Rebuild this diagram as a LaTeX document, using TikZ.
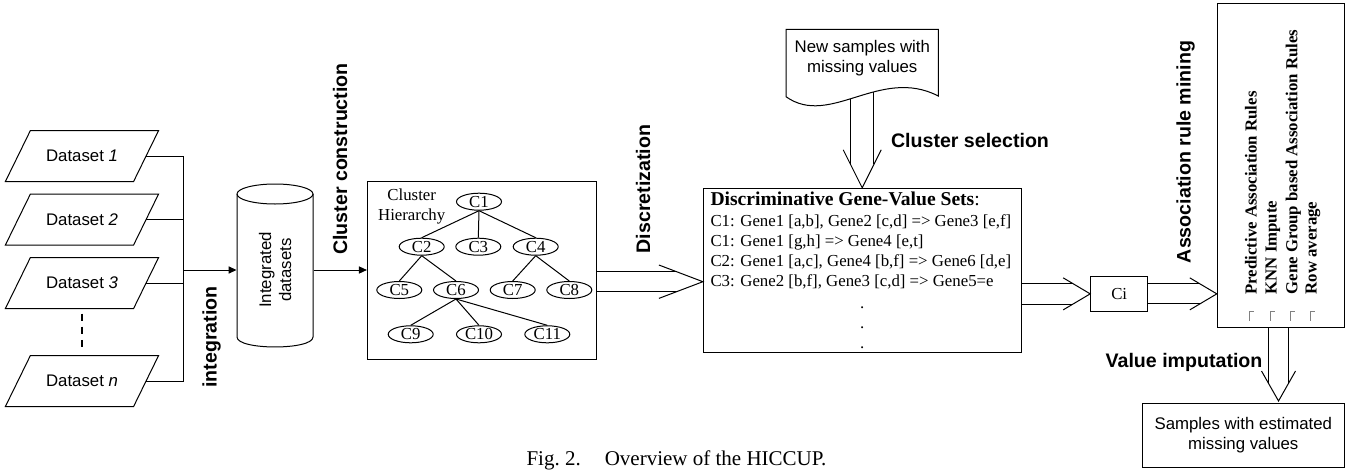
\documentclass[tikz,border=0pt]{standalone}
\usepackage{fontspec}
\setmainfont{Liberation Serif}
\setsansfont{Liberation Sans}
\usetikzlibrary{shapes.geometric,arrows.meta,calc}

% hollow double-line arrows: #1 from, #2 tip, #3 shaft half width, #4 head length, #5 head half width
\newcommand{\rightfat}[5]{%
  \draw ($(#1 |- #2)+(0,-#3)$) -- ($(#2)+({-#4*#3/#5},-#3)$);
  \draw ($(#1 |- #2)+(0,#3)$) -- ($(#2)+({-#4*#3/#5},#3)$);
  \draw ($(#2)+(-#4,-#5)$) -- (#2) -- ($(#2)+(-#4,#5)$);
}
\newcommand{\downfat}[5]{%
  \draw ($(#2 |- #1)+(-#3,0)$) -- ($(#2)+(-#3,{-#4*#3/#5})$);
  \draw ($(#2 |- #1)+(#3,0)$) -- ($(#2)+(#3,{-#4*#3/#5})$);
  \draw ($(#2)+(-#5,-#4)$) -- (#2) -- ($(#2)+(#5,-#4)$);
}

\begin{document}
\begin{tikzpicture}[x=0.5pt,y=0.5pt,yscale=-1,xscale=1,line width=0.5pt,
  sanstxt/.style={font=\sffamily\fontsize{8.4}{10}\selectfont},
  seriftxt/.style={font=\fontsize{8.4}{10}\selectfont},
  stagelabel/.style={font=\sffamily\bfseries\fontsize{9.8}{11}\selectfont},
  dataset/.style={minimum width=63.6pt, minimum height=25pt, inner sep=0pt, sanstxt},
  cnode/.style={ellipse, draw, minimum width=22.5pt, minimum height=8.5pt, inner sep=0pt, seriftxt},
  ruletxt/.style={seriftxt, anchor=west, inner sep=0pt},
  methodtxt/.style={font=\bfseries\fontsize{8.4}{10}\selectfont, rotate=90, anchor=west, inner sep=0pt,
    text height=0.7em, text depth=0.2em},
  filltip/.style={-{Triangle[length=4pt,width=3.6pt]}}]
\useasboundingbox (0,0) rectangle (1353,471);

% Datasets
\foreach \yy/\lab [count=\i] in {156/1,219.5/2,283/3,381/n}{
  \node[dataset] (ds\i) at (82,\yy) {Dataset \textit{\lab}};
  \draw ($(ds\i.south west)+(-12.5,0)$) -- ($(ds\i.north west)+(12.5,0)$)
     -- ($(ds\i.north east)+(12.5,0)$) -- ($(ds\i.south east)+(-12.5,0)$) -- cycle;
}
\draw[line width=0.8pt, dash pattern=on 3.8pt off 2.8pt] ($(ds3.south)+(0,5)$) -- ($(ds4.north)+(0,-9)$);

% Integrated datasets (cylinder)
\node[minimum width=38pt, minimum height=81.5pt, inner sep=0pt] (cyl) at (275,265.5) {};
\draw (237,194) -- (237,337) .. controls (237,350.3) and (313,350.3) .. (313,337) -- (313,194);
\draw (275,194) ellipse [x radius=38, y radius=10];
\node[sanstxt, rotate=90, align=center] (cyltxt) at (275,270) {Integrated\\datasets};

\coordinate (join) at (183,270);
\foreach \i in {1,...,4}
  \draw (ds\i.east) -| (join);
\draw[filltip] (join) -- (cyl.west |- join);
\node[stagelabel, rotate=90] (integ) at (211.7,337) {integration};

% Cluster hierarchy
\node[draw, minimum width=114.3pt, minimum height=88.7pt] (clus) at (481.7,270.3) {};
\draw[filltip] (cyl.east |- join) -- (clus.west |- join);
\node[stagelabel, rotate=90] (cconst) at (340,159) {Cluster construction};
\node[seriftxt, align=center] (hier) at (411.7,206.7) {Cluster\\Hierarchy};
\node[cnode] (c1) at (479,201.7) {C1};
\node[cnode] (c2) at (421.7,246.7) {C2};
\node[cnode] (c3) at (478.3,246.7) {C3};
\node[cnode] (c4) at (535.7,246.7) {C4};
\node[cnode] (c5) at (399.3,290) {C5};
\node[cnode] (c6) at (456,290) {C6};
\node[cnode] (c7) at (512.7,290) {C7};
\node[cnode] (c8) at (569.3,290) {C8};
\node[cnode] (c9) at (410.7,334.3) {C9};
\node[cnode] (c10) at (479,334.3) {C10};
\node[cnode] (c11) at (547.3,334.3) {C11};
\foreach \p/\c in {c1/c2,c1/c3,c1/c4,c2/c5,c2/c6,c4/c7,c4/c8,c6/c9,c6/c10,c6/c11}
  \draw (\p.south) -- (\c.north);

% Discriminative gene-value sets
\node[draw, minimum width=158.8pt, minimum height=82pt] (disc) at (862.2,270.3) {};
\node[ruletxt, font=\fontsize{9.8}{11}\selectfont] (dtitle) at (710,199.3) {\textbf{Discriminative Gene-Value Sets}:};
\node[ruletxt] (r1) at (710,222.3) {C1: Gene1 [a,b], Gene2 [c,d] => Gene3 [e,f]};
\node[ruletxt] (r2) at (710,242.3) {C1: Gene1 [g,h] => Gene4 [e,t]};
\node[ruletxt] (r3) at (710,262.3) {C2: Gene1 [a,c], Gene4 [b,f] => Gene6 [d,e]};
\node[ruletxt] (r4) at (710,282.3) {C3: Gene2 [b,f], Gene3 [c,d] => Gene5=e};
\foreach \yy [count=\i] in {308,328,348}
  \node[seriftxt, anchor=base, inner sep=0pt] (dot\i) at (862.3,\yy) {.};
\node[stagelabel, rotate=90] (discr) at (643,189) {Discretization};
\coordinate (disc-in) at ($(disc.west)+(0,11.4)$);
\rightfat{clus.east}{disc-in}{10}{44}{16.7}

% New samples (document shape)
\coordinate (newsrc) at (862.3,80);
\downfat{newsrc}{disc.north}{11.7}{38}{19}
\filldraw[fill=white] (786,29.3) -- (938.3,29.3) -- (938.3,96) .. controls (880,66) and (830,128) .. (786,96.7) -- cycle;
\node[sanstxt, align=center] (newtxt) at (862.3,57.7) {New samples with\\missing values};
\node[stagelabel] (csel) at (970,140) {Cluster selection};

% Selected cluster
\node[draw, seriftxt, minimum width=28.5pt, minimum height=17.2pt] (ci) at (1119.2,293.85) {Ci};
\rightfat{disc.east}{ci.west}{10.3}{27}{16}

% Imputation methods
\node[draw, minimum width=63.7pt, minimum height=161.7pt] (rules) at (1281,165.65) {};
\coordinate (rules-in) at (rules.west |- ci.east);
\rightfat{ci.east}{rules-in}{10}{27}{16}
\node[stagelabel, rotate=90] (armine) at (1185.5,152) {Association rule mining};
\node[methodtxt] (m1) at (1251.7,295) {Predictive Association Rules};
\node[methodtxt] (m2) at (1271.7,295) {KNN Impute};
\node[methodtxt] (m3) at (1292.3,295) {Gene Group based Association Rules};
\node[methodtxt] (m4) at (1311.7,295) {Row average};
\foreach \xx in {1249.5,1270,1290.3,1310.3}
  \draw[gray] (\xx,320.7) -- (\xx,311.7) -- ++(4.7,0);

% Result
\node[draw, sanstxt, align=center, minimum width=101pt, minimum height=32pt] (samp) at (1243.3,435.3) {Samples with estimated\\missing values};
\coordinate (samp-in) at (1278.5,401);
\downfat{rules.south}{samp-in}{10}{30}{17}
\node[stagelabel] (vimp) at (1184,362) {Value imputation};

% Caption
\node[font=\fontsize{10.5}{12}\selectfont] (cap) at (676.5,460) {Fig.~2.\hspace{12pt}Overview of the HICCUP.};
\end{tikzpicture}
\end{document}
